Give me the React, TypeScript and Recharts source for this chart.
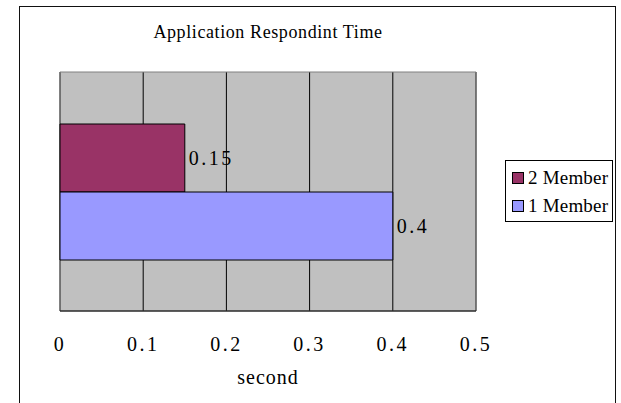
import React from 'react';
import {
  BarChart,
  Bar,
  XAxis,
  YAxis,
  CartesianGrid,
  Legend,
  LabelList,
  ReferenceArea
} from 'recharts';

const categories = [''];
const seriesNames = ['2 Member', '1 Member'];
const twoMember = [0.15];
const oneMember = [0.4];
const xTicks = [0, 0.1, 0.2, 0.3, 0.4, 0.5];

const FONT = '"Liberation Serif", "DejaVu Serif", serif';

const data = categories.map((c, i) => ({
  name: c,
  two: twoMember[i],
  one: oneMember[i]
}));

const LegendBox = ({ payload }: any) => {
  // keep the series order of the reference, not alphabetical
  const items = seriesNames
    .map((n) => (payload || []).find((p: any) => p.value === n))
    .filter(Boolean);
  return (
    <div
      style={{
        border: '1px solid #000',
        background: '#fff',
        width: 108,
        padding: '3px 0 1px 0',
        fontFamily: FONT,
        fontSize: 19,
        letterSpacing: 0.2,
        color: '#000',
        boxSizing: 'border-box',
        whiteSpace: 'nowrap'
      }}
    >
      {items.map((p: any) => (
        <div key={p.value} style={{ display: 'flex', alignItems: 'center', height: 28, paddingLeft: 6 }}>
          <span
            style={{
              width: 10,
              height: 10,
              background: p.color,
              border: '1px solid #000',
              marginRight: 4,
              display: 'inline-block',
              flex: 'none'
            }}
          />
          <span>{p.value}</span>
        </div>
      ))}
    </div>
  );
};

const App: React.FC = () => {
  return (
    <div style={{ position: 'absolute', left: 0, top: 0, width: 621, height: 403, background: '#fff', overflow: 'hidden' }}>
      <div
        style={{
          position: 'absolute',
          left: 19,
          top: 6,
          width: 597,
          height: 420,
          border: '1px solid #111',
          boxSizing: 'border-box'
        }}
      />
      <div
        style={{
          position: 'absolute',
          left: 60,
          width: 416,
          top: 22,
          textAlign: 'center',
          fontFamily: FONT,
          fontSize: 18,
          letterSpacing: 0.6,
          color: '#000'
        }}
      >
        Application Respondint Time
      </div>
      <div style={{ position: 'absolute', left: 0, top: 0 }}>
        <BarChart
          width={621}
          height={403}
          data={data}
          layout="vertical"
          margin={{ top: 72, right: 145, left: 60, bottom: 0 }}
          barSize={68}
          barGap={0}
        >
          <CartesianGrid horizontal={false} stroke="#000" fill="#C0C0C0" fillOpacity={1} />
          <ReferenceArea x1={0} x2={0.5} fill="none" stroke="#808080" ifOverflow="visible" />
          <XAxis
            type="number"
            domain={[0, 0.5]}
            ticks={xTicks}
            height={92}
            tickLine={false}
            tickMargin={20}
            axisLine={{ stroke: '#000' }}
            tick={{ fontFamily: FONT, fontSize: 20, fill: '#000', letterSpacing: 2.5 }}
            label={{
              value: 'second',
              position: 'insideBottom',
              offset: 19,
              style: { fontFamily: FONT, fontSize: 20, fill: '#000', letterSpacing: 1 }
            }}
          />
          <YAxis
            type="category"
            dataKey="name"
            width={0}
            tick={false}
            tickLine={false}
            axisLine={{ stroke: '#000' }}
          />
          <Legend
            layout="vertical"
            align="center"
            verticalAlign="middle"
            wrapperStyle={{ left: 505, top: 160, width: 108 }}
            content={<LegendBox />}
          />
          <Bar dataKey="two" name="2 Member" fill="#993366" stroke="#000" strokeWidth={1} isAnimationActive={false}>
            <LabelList
              dataKey="two"
              position="right"
              offset={4}
              style={{ fontFamily: FONT, fontSize: 20, fill: '#000', letterSpacing: 2.5 }}
            />
          </Bar>
          <Bar dataKey="one" name="1 Member" fill="#9999FF" stroke="#000" strokeWidth={1} isAnimationActive={false}>
            <LabelList
              dataKey="one"
              position="right"
              offset={4}
              style={{ fontFamily: FONT, fontSize: 20, fill: '#000', letterSpacing: 2.5 }}
            />
          </Bar>
        </BarChart>
      </div>
    </div>
  );
};

export default App;
